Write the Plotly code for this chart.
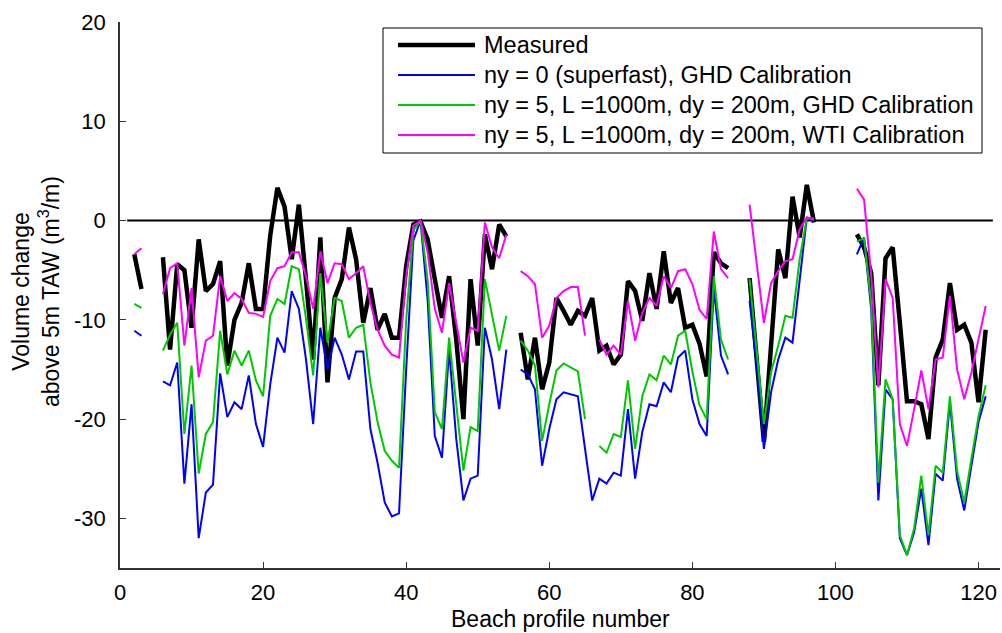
import plotly.graph_objects as go

# Beach profile numbers 1..121
profiles = list(range(1, 122))
N = None

measured = [
    N, -3.4, -6.9, N, N, -3.7, -13.0, -4.4, -5.0, -10.8,
    -1.9, -7.1, -6.4, -4.1, -14.6, -10.0, -8.3, -4.3, -8.9, -8.9,
    -1.5, 3.3, 1.4, -3.9, 1.6, -6.0, -14.0, -1.7, -16.3, -7.8,
    -5.9, -0.7, -3.9, -10.3, -6.8, -11.0, -9.4, -11.8, -11.8, -4.6,
    -0.4, -0.1, -1.9, -5.9, -9.8, -5.6, -12.0, -20.0, -5.9, -12.6,
    -1.4, -4.9, -0.4, -1.6, N, -11.3, -16.0, -11.8, -17.0, -14.3,
    -7.8, -9.1, -10.5, -9.1, -9.6, -7.8, -13.1, -12.6, -14.5, -13.5,
    -6.1, -7.1, -10.1, -5.3, -8.9, -3.1, -8.3, -6.8, -10.8, -10.5,
    -12.4, -15.7, -3.2, -4.3, -4.8, N, N, -5.8, -14.0, -22.3,
    -12.6, -2.9, -5.8, 2.4, -1.7, 3.6, -0.2, N, N, N,
    N, N, -1.4, -2.7, -5.3, -16.6, -3.8, -2.7, -10.3, -18.2,
    -18.2, -18.5, -22.0, -13.8, -12.0, -6.3, -11.0, -10.5, -12.3, -18.3,
    -11.0,
]

ny0_ghd = [
    N, -11.1, -11.6, N, N, -16.2, -16.6, -14.3, -26.5, -18.5,
    -32.0, -27.4, -26.6, -15.4, -19.8, -18.3, -19.0, -15.6, -20.5, -22.8,
    -16.5, -11.8, -13.3, -7.1, -8.9, -14.0, -20.5, -10.8, -15.0, -11.8,
    -13.5, -16.0, -13.2, -13.2, -21.0, -24.4, -28.4, -29.8, -29.5, -15.0,
    -2.0, 0.0, -8.0, -21.7, -23.9, -13.0, -22.0, -28.2, -26.0, -25.7,
    -10.8, -14.0, -19.0, -13.0, N, -15.0, -15.5, -17.0, -24.7, -21.0,
    -18.0, -17.3, -17.5, -17.7, -23.0, -28.2, -26.0, -26.5, -25.4, -25.7,
    -19.0, -26.0, -21.3, -18.5, -18.7, -16.3, -17.3, -13.8, -13.1, -18.0,
    -20.5, -21.7, -6.8, -13.6, -15.5, N, N, -8.1, -14.6, -23.0,
    -17.3, -14.0, -11.8, -12.3, -5.9, 0.3, 0.0, N, N, N,
    N, N, -3.4, -1.7, -9.0, -28.2, -17.0, -18.0, -32.0, -33.7,
    -31.4, -27.0, -32.7, -25.5, -26.2, -18.3, -26.0, -29.2, -24.7, -20.3,
    -17.7,
]

ny5_ghd = [
    N, -8.4, -8.8, N, N, -13.1, -11.5, -10.3, -21.5, -14.6,
    -25.5, -21.5, -20.3, -11.1, -15.5, -13.1, -14.6, -13.1, -16.1, -17.7,
    -9.6, -7.9, -8.4, -4.6, -4.9, -9.9, -15.6, -5.3, -12.3, -7.8,
    -8.1, -11.8, -10.8, -10.5, -16.3, -20.3, -23.2, -24.2, -24.9, -10.0,
    -1.0, 0.0, -6.0, -19.3, -21.0, -11.8, -18.7, -25.2, -20.8, -21.2,
    -5.9, -9.6, -13.1, -9.6, N, -12.1, -13.1, -14.6, -22.2, -18.5,
    -15.1, -14.4, -14.8, -15.2, -20.0, N, -22.7, -23.4, -21.5, -21.8,
    -16.1, -23.0, -17.7, -15.5, -16.1, -13.6, -14.5, -11.6, -11.1, -15.2,
    -18.6, -20.0, -5.6, -12.0, -14.0, N, N, -5.9, -13.3, -20.5,
    -15.3, -12.6, -9.6, -9.8, -3.9, 0.3, 0.1, N, N, N,
    N, N, -2.1, -1.8, -8.3, -26.4, -16.0, -18.0, -31.7, -33.7,
    -31.0, -25.7, -31.7, -24.7, -25.4, -17.7, -25.2, -28.4, -24.0, -19.7,
    -16.6,
]

ny5_wti = [
    N, -3.4, -2.8, N, N, -7.4, -4.8, -4.3, -12.6, -6.8,
    -15.8, -12.1, -11.6, -5.6, -8.1, -7.3, -7.9, -9.3, -9.4, -9.7,
    -6.1, -4.8, -4.6, -3.2, -3.2, -5.6, -8.9, -3.1, -6.3, -4.3,
    -4.4, -5.9, -5.3, -4.6, -8.3, -11.0, -12.6, -13.5, -13.8, -5.6,
    -0.5, 0.0, -3.2, -8.9, -11.3, -6.3, -10.3, -14.3, -10.8, -11.1,
    -0.2, -2.7, -3.8, -1.4, N, -5.1, -5.6, -6.4, -11.8, -10.6,
    -7.8, -7.1, -6.7, -6.7, -11.6, N, -12.0, -13.5, -12.6, -13.5,
    -8.1, -12.1, -9.3, -7.8, -8.6, -5.6, -6.8, -5.1, -4.9, -6.4,
    -9.0, -9.9, -1.1, -4.9, -5.8, N, N, 1.6, -4.3, -10.3,
    -6.3, -5.1, -4.1, -3.9, -0.9, 0.3, 0.2, N, N, N,
    N, N, 3.2, 2.1, -5.5, -16.8, -5.9, -7.8, -20.5, -22.7,
    -19.0, -15.1, -19.0, -14.0, -13.8, -7.6, -15.0, -18.0, -15.3, -12.0,
    -8.6,
]

zero_x = [1, 122]
zero_y = [0, 0]

x_ticks = [0, 20, 40, 60, 80, 100, 120]
y_ticks = [-30, -20, -10, 0, 10, 20]
y_tick_text = ["-30", "-20", "-10", "0", "10", "20"]

series_names = [
    "Measured",
    "ny = 0 (superfast), GHD Calibration",
    "ny = 5, L =1000m, dy = 200m, GHD Calibration",
    "ny = 5, L =1000m, dy = 200m, WTI Calibration",
]
series_values = [measured, ny0_ghd, ny5_ghd, ny5_wti]
series_colors = ["#000000", "#0000FF", "#00C800", "#FF00FF"]
series_widths = [4.5, 2, 2, 2]

FONT = "Arial, Liberation Sans, Helvetica, sans-serif"

fig = go.Figure()

fig.add_trace(go.Scatter(x=zero_x, y=zero_y, mode="lines",
                         line=dict(color="black", width=2),
                         showlegend=False, hoverinfo="skip"))

for name, vals, col, w in zip(series_names, series_values, series_colors, series_widths):
    fig.add_trace(go.Scatter(x=profiles, y=vals, mode="lines", name=name,
                             line=dict(color=col, width=w),
                             connectgaps=False, showlegend=False))

# plot-area geometry in pixels (used to place the hand-drawn legend and titles)
W, H = 1002, 633
ML, MR, MT, MB = 120, 2, 22, 65
PW, PH = W - ML - MR, H - MT - MB


def px(x):
    return (x - ML) / PW


def py(y):
    return (H - MB - y) / PH


# legend box
fig.add_shape(type="rect", xref="paper", yref="paper",
              x0=px(383), x1=px(982), y0=py(153), y1=py(28),
              line=dict(color="black", width=1), fillcolor="white", layer="above")
row_y = [45, 75, 105, 135]
for name, col, w, ry in zip(series_names, series_colors, series_widths, row_y):
    fig.add_shape(type="line", xref="paper", yref="paper",
                  x0=px(398), x1=px(475), y0=py(ry), y1=py(ry),
                  line=dict(color=col, width=w), layer="above")
    fig.add_annotation(xref="paper", yref="paper", x=px(482), y=py(ry),
                       text=name, showarrow=False, xanchor="left", yanchor="middle",
                       font=dict(family=FONT, size=23.5, color="black"))

# y-axis title (two lines)
fig.add_annotation(xref="paper", yref="paper", x=px(36), y=py(292),
                   text="Volume change<br>above 5m TAW (m<sup>3</sup>/m)",
                   textangle=-90, showarrow=False, xanchor="center", yanchor="middle",
                   font=dict(family=FONT, size=23, color="black"))

# x-axis title
fig.add_annotation(xref="paper", yref="paper", x=px(560), y=py(619),
                   text="Beach profile number", showarrow=False,
                   xanchor="center", yanchor="middle",
                   font=dict(family=FONT, size=23, color="black"))

axis_col = "#333333"
fig.update_layout(
    width=W, height=H,
    margin=dict(l=ML, r=MR, t=MT, b=MB),
    paper_bgcolor="white", plot_bgcolor="white",
    font=dict(family=FONT, size=22, color="black"),
    xaxis=dict(range=[0, 123], tickvals=x_ticks,
               showgrid=False, zeroline=False, showline=True, linecolor=axis_col,
               linewidth=1.5, ticks="inside", ticklen=6, tickcolor=axis_col,
               ticklabelstandoff=4, tickfont=dict(size=22)),
    yaxis=dict(range=[-35, 20], tickvals=y_ticks, ticktext=y_tick_text,
               showgrid=False, zeroline=False, showline=True, linecolor=axis_col,
               linewidth=1.5, ticks="inside", ticklen=6, tickcolor=axis_col,
               ticklabelstandoff=8, tickfont=dict(size=22)),
)

fig.write_html("out.html")
